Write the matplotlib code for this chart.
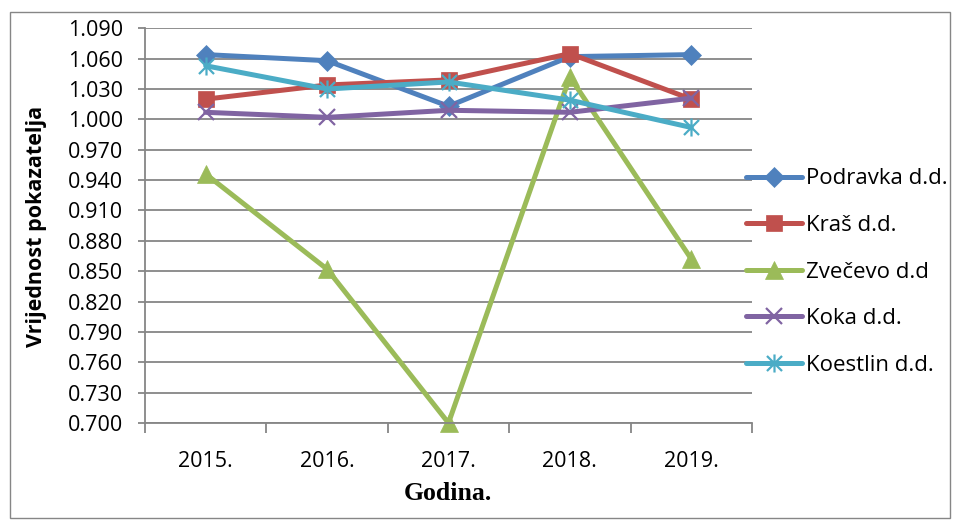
import matplotlib
matplotlib.use("Agg")
import matplotlib.pyplot as plt
from matplotlib.path import Path
from matplotlib.patches import Rectangle

years = ["2015.", "2016.", "2017.", "2018.", "2019."]
podravka = [1.064, 1.058, 1.013, 1.062, 1.064]
kras = [1.020, 1.034, 1.039, 1.065, 1.020]
zvecevo = [0.946, 0.852, 0.700, 1.042, 0.862]
koka = [1.007, 1.002, 1.009, 1.007, 1.021]
koestlin = [1.053, 1.030, 1.037, 1.019, 0.992]
labels = ["Podravka d.d.", "Kraš d.d.", "Zvečevo d.d", "Koka d.d.", "Koestlin d.d."]
yticks = [0.700, 0.730, 0.760, 0.790, 0.820, 0.850, 0.880, 0.910, 0.940,
          0.970, 1.000, 1.030, 1.060, 1.090]

W, H = 956, 525
fig = plt.figure(figsize=(W / 100, H / 100), dpi=100)
fig.patch.set_facecolor("white")
fig.add_artist(Rectangle((10 / W, 7 / H), 940 / W, 506 / H, transform=fig.transFigure,
                         fill=False, edgecolor="#868686", linewidth=1.0))

ax = fig.add_axes([145 / W, 1 - 423 / H, (752 - 145) / W, (423 - 28.3) / H])

star = Path([(-0.5, -0.5), (0.5, 0.5), (-0.5, 0.5), (0.5, -0.5), (0, -0.6), (0, 0.6)],
            [Path.MOVETO, Path.LINETO, Path.MOVETO, Path.LINETO, Path.MOVETO, Path.LINETO])

series = [podravka, kras, zvecevo, koka, koestlin]
colors = ["#4F81BD", "#C0504D", "#9BBB59", "#8064A2", "#4BACC6"]
markers = ["D", "s", "^", "x", star]
msizes = [10, 12, 13, 11, 13]
x = list(range(1, len(years) + 1))
handles = []
for s, c, m, ms, lab in zip(series, colors, markers, msizes, labels):
    kw = dict(color=c, linewidth=3.6, marker=m, markersize=ms, label=lab, clip_on=False,
              solid_capstyle="round", solid_joinstyle="round")
    if m in ("x",) or m is star:
        kw.update(markeredgewidth=1.6, markeredgecolor=c)
    else:
        kw.update(markerfacecolor=c, markeredgecolor=c, markeredgewidth=0.5)
    h, = ax.plot(x, s, **kw)
    handles.append(h)

ax.set_xlim(0.5, len(years) + 0.5)
ax.set_ylim(0.700, 1.090)
ax.set_yticks(yticks)
ax.set_yticklabels([f"{v:.3f}" for v in yticks])
ax.set_xticks(x)
ax.set_xticklabels(years)
ax.set_xticks([i + 0.5 for i in range(0, len(years) + 1)], minor=True)
ax.tick_params(axis="x", which="major", length=0, pad=20)
ax.tick_params(axis="x", which="minor", length=7, width=1.3, color="#868686", direction="out")
ax.tick_params(axis="y", length=5, width=1.3, color="#868686", direction="out", pad=11)
for lab in ax.get_xticklabels() + ax.get_yticklabels():
    lab.set_fontfamily("Open Sans")
    lab.set_fontsize(15.5)

ax.grid(axis="y", color="#868686", linewidth=1.3)
ax.set_axisbelow(True)
for sp in ["top", "right"]:
    ax.spines[sp].set_visible(False)
for sp in ["left", "bottom"]:
    ax.spines[sp].set_color("#868686")
    ax.spines[sp].set_linewidth(1.3)

fig.text(37 / W, 1 - 226 / H, "Vrijednost pokazatelja", rotation=90, ha="center", va="center",
         fontfamily="Open Sans", fontweight="bold", fontsize=15.5)
fig.text(448 / W, 1 - 494 / H, "Godina.", ha="center", va="center",
         fontfamily="Liberation Serif", fontweight="bold", fontsize=18.5)

leg = fig.legend(handles=handles, loc="center left", bbox_to_anchor=(746 / W, 1 - 272 / H),
                 frameon=False, prop={"family": "Open Sans", "size": 16},
                 handlelength=2.5, handletextpad=0.2, labelspacing=1.15,
                 borderpad=0, borderaxespad=0)

fig.savefig("out.png", dpi=100, facecolor="white")
